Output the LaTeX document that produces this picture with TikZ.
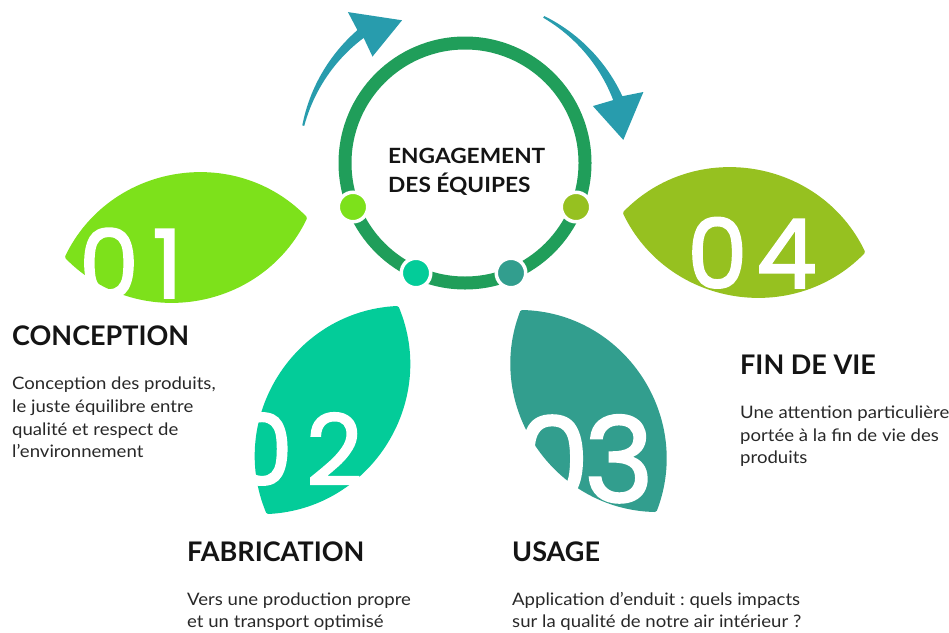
\documentclass[tikz,border=0pt]{standalone}
\usepackage{fontspec}
\setmainfont{Lato}
\newfontfamily\digitfont{Poppins}[FakeBold=2]
\newfontfamily\bodyfont{Lato}[FakeStretch=1.08]
\usetikzlibrary{calc}
\definecolor{leafA}{RGB}{125,225,27}
\definecolor{leafB}{RGB}{3,204,153}
\definecolor{leafC}{RGB}{50,158,142}
\definecolor{leafD}{RGB}{150,193,32}
\definecolor{ringc}{RGB}{32,158,90}
\definecolor{arrowc}{RGB}{40,156,173}
\definecolor{titlec}{RGB}{20,20,20}
\definecolor{bodyc}{RGB}{40,40,40}
\newcommand{\leafshape}[3]{%
  \filldraw[fill=#3,draw=#3,line width=4pt,line join=round]
    (#1) .. controls ($(#1)!0.42!55:(#2)$) and ($(#2)!0.42!-55:(#1)$) .. (#2)
         .. controls ($(#2)!0.42!55:(#1)$) and ($(#1)!0.42!-55:(#2)$) .. cycle;}
\frenchspacing
\begin{document}
\begin{tikzpicture}[x=1pt,y=-1pt,
  head/.style={anchor=base west,inner sep=0pt,text=titlec,font=\fontsize{27}{30}\selectfont\bfseries},
  body/.style={anchor=base west,inner sep=0pt,text=bodyc,font=\bodyfont\fontsize{17.2}{22}\selectfont},
  center/.style={anchor=base west,inner sep=0pt,text=titlec,font=\bodyfont\fontsize{21}{24}\selectfont\bfseries},
  digit/.style={anchor=base west,inner sep=0pt,text depth=0pt,text=white,font=\digitfont\fontsize{#1}{#1}\selectfont},
  dot/.style={circle,minimum size=29.5pt,inner sep=0pt,draw=white,line width=3.5pt}]
\useasboundingbox (0,0) rectangle (949,632);
% leaves
\coordinate (a1) at (67,257);  \coordinate (a2) at (305,218);
\coordinate (b1) at (397,308); \coordinate (b2) at (268,512);
\coordinate (c1) at (522,312); \coordinate (c2) at (655,510);
\coordinate (e1) at (625,213); \coordinate (e2) at (863,252);
\leafshape{a1}{a2}{leafA}
\leafshape{b1}{b2}{leafB}
\leafshape{c1}{c2}{leafC}
\leafshape{e1}{e2}{leafD}
% digits
\node[digit=95] (n1a) at (79,298) {0};
\node[digit=95] (n1b) at (152,298) {1};
\node[digit=98] (n2a) at (231,485) {0};
\node[digit=98] (n2b) at (306,485) {2};
\node[digit=118] (n3a) at (515,502) {0};
\node[digit=118] (n3b) at (584,502) {3};
\node[digit=96] (n4a) at (687,288) {0};
\node[digit=96] (n4b) at (756,288) {4};
% ring
\coordinate (C) at (465,163);
\draw[ringc,line width=13pt] (C) circle (120);
\node[dot,fill=leafA] (d1) at (353,207) {};
\node[dot,fill=leafB] (d2) at (416,273) {};
\node[dot,fill=leafC] (d3) at (511,273) {};
\node[dot,fill=leafD] (d4) at (576,207) {};
% arrows
\begin{scope}[shift={(C)}]
\fill[arrowc] plot[domain=167:129,samples=25] ({-\x}:{167+4*(167-\x)/38})
  -- (-127.8:191) -- (-113.8:156) -- (-131:141)
  -- plot[domain=129:167,samples=25] ({-\x}:{165-4*(167-\x)/38}) -- cycle;
\fill[arrowc] plot[domain=61.7:23,samples=25] ({-\x}:{167+4*(61.7-\x)/38.7})
  -- (-21.7:192) -- (-8.3:160) -- (-24:140)
  -- plot[domain=23:61.7,samples=25] ({-\x}:{165-4*(61.7-\x)/38.7}) -- cycle;
\end{scope}
% center text
\node[center] (t1) at (388,163) {ENGAGEMENT};
\node[center] (t2) at (388,192) {DES ÉQUIPES};
% headings
\node[head] (h1) at (12,345) {CONCEPTION};
\node[head] (h2) at (187,561) {FABRICATION};
\node[head] (h3) at (512,561) {USAGE};
\node[head] (h4) at (740,374) {FIN DE VIE};
% bodies
\node[body] (p11) at (12,389) {Conception des produits,};
\node[body] (p12) at (12,412) {le juste équilibre entre};
\node[body] (p13) at (12,435) {qualité et respect de};
\node[body] (p14) at (12,457) {l’environnement};
\node[body] (p21) at (187,605) {Vers une production propre};
\node[body] (p22) at (187,627) {et un transport optimisé};
\node[body] (p31) at (512,605) {Application d’enduit : quels impacts};
\node[body] (p32) at (512,627) {sur la qualité de notre air intérieur ?};
\node[body] (p41) at (740,418) {Une attention particulière};
\node[body] (p42) at (740,441) {portée à la fin de vie des};
\node[body] (p43) at (740,463) {produits};
\end{tikzpicture}
\end{document}
